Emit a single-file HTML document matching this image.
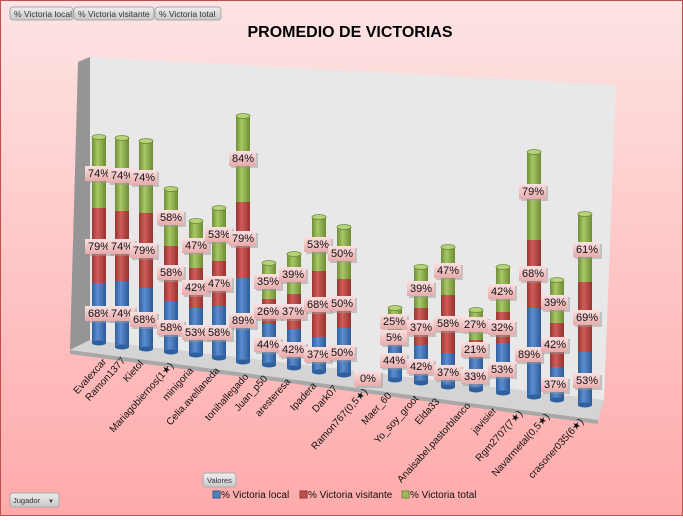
<!DOCTYPE html>
<html><head><meta charset="utf-8"><style>
html,body{margin:0;padding:0;}
body{width:683px;height:516px;overflow:hidden;font-family:"Liberation Sans",sans-serif;}
</style></head><body>
<svg width="683" height="516" viewBox="0 0 683 516" xmlns="http://www.w3.org/2000/svg" font-family="Liberation Sans, sans-serif">
<defs>
<linearGradient id="bg" x1="0" y1="0" x2="0" y2="1"><stop offset="0" stop-color="#fde4e4"/><stop offset="1" stop-color="#ffaaaa"/></linearGradient>
<linearGradient id="gb" x1="0" x2="1"><stop offset="0" stop-color="#2f5f9c"/><stop offset="0.4" stop-color="#5b8ed0"/><stop offset="1" stop-color="#2e5a94"/></linearGradient>
<linearGradient id="gr" x1="0" x2="1"><stop offset="0" stop-color="#9a3532"/><stop offset="0.4" stop-color="#d05c58"/><stop offset="1" stop-color="#953330"/></linearGradient>
<linearGradient id="gg" x1="0" x2="1"><stop offset="0" stop-color="#6f8e37"/><stop offset="0.4" stop-color="#a8c866"/><stop offset="1" stop-color="#6d8b34"/></linearGradient>
<linearGradient id="lb" x1="0" y1="0" x2="0" y2="1"><stop offset="0" stop-color="#fbe0e0"/><stop offset="1" stop-color="#e8aaaa"/></linearGradient>
<linearGradient id="btn" x1="0" y1="0" x2="0" y2="1"><stop offset="0" stop-color="#eeeeee"/><stop offset="1" stop-color="#c8c8c8"/></linearGradient>
<g id="lbl"><rect x="-13" y="-7" width="27" height="15" fill="#999" opacity="0.5" transform="translate(2,2)"/><rect x="-13" y="-7" width="27" height="15" fill="url(#lb)"/></g>
</defs>
<rect x="0.5" y="0.5" width="682" height="515" fill="url(#bg)" stroke="#c0504d"/>
<g font-size="8.5" fill="#333">
<rect x="10" y="7" width="63" height="13" rx="3" fill="url(#btn)" stroke="#aaa"/><text x="14" y="17">% Victoria local</text>
<rect x="74" y="7" width="80" height="13" rx="3" fill="url(#btn)" stroke="#aaa"/><text x="78" y="17">% Victoria visitante</text>
<rect x="155" y="7" width="66" height="13" rx="3" fill="url(#btn)" stroke="#aaa"/><text x="159" y="17">% Victoria total</text>
<rect x="203" y="473" width="33" height="14" rx="3" fill="url(#btn)" stroke="#aaa"/><text x="207" y="483" font-size="7.5">Valores</text>
<rect x="10" y="493" width="49" height="14" rx="3" fill="url(#btn)" stroke="#aaa"/><text x="13" y="503" font-size="7.5">Jugador</text><text x="48" y="503" font-size="6">▼</text>
</g>
<text x="350" y="37" text-anchor="middle" font-size="16" font-weight="bold" fill="#000">PROMEDIO DE VICTORIAS</text>
<polygon points="78,62 90,57 90,340 70,350" fill="#959595"/>
<polygon points="90,57 616,85 604,400 90,340" fill="#e8e8e8"/>
<polygon points="90,340 604,400 598,420 70,350" fill="#d4d4d4"/>
<polygon points="70,350 598,420 598,424 70,354" fill="#a8a8a8"/>
<g stroke-width="0">
<rect x="92" y="283" width="14" height="60" fill="url(#gb)"/><ellipse cx="99" cy="343" rx="7" ry="2.5" fill="#2f5f9c"/><rect x="92" y="208" width="14" height="75" fill="url(#gr)"/><rect x="92" y="137" width="14" height="71" fill="url(#gg)"/><ellipse cx="99" cy="137" rx="7" ry="2.5" fill="#b6d27a" stroke="#6d8b34" stroke-width="0.8"/>
<rect x="115" y="281" width="14" height="66" fill="url(#gb)"/><ellipse cx="122" cy="347" rx="7" ry="2.5" fill="#2f5f9c"/><rect x="115" y="211" width="14" height="70" fill="url(#gr)"/><rect x="115" y="138" width="14" height="73" fill="url(#gg)"/><ellipse cx="122" cy="138" rx="7" ry="2.5" fill="#b6d27a" stroke="#6d8b34" stroke-width="0.8"/>
<rect x="139" y="288" width="14" height="61" fill="url(#gb)"/><ellipse cx="146" cy="349" rx="7" ry="2.5" fill="#2f5f9c"/><rect x="139" y="213" width="14" height="75" fill="url(#gr)"/><rect x="139" y="141" width="14" height="72" fill="url(#gg)"/><ellipse cx="146" cy="141" rx="7" ry="2.5" fill="#b6d27a" stroke="#6d8b34" stroke-width="0.8"/>
<rect x="164" y="301" width="14" height="51" fill="url(#gb)"/><ellipse cx="171" cy="352" rx="7" ry="2.5" fill="#2f5f9c"/><rect x="164" y="246" width="14" height="55" fill="url(#gr)"/><rect x="164" y="189" width="14" height="57" fill="url(#gg)"/><ellipse cx="171" cy="189" rx="7" ry="2.5" fill="#b6d27a" stroke="#6d8b34" stroke-width="0.8"/>
<rect x="189" y="308" width="14" height="47" fill="url(#gb)"/><ellipse cx="196" cy="355" rx="7" ry="2.5" fill="#2f5f9c"/><rect x="189" y="268" width="14" height="40" fill="url(#gr)"/><rect x="189" y="221" width="14" height="47" fill="url(#gg)"/><ellipse cx="196" cy="221" rx="7" ry="2.5" fill="#b6d27a" stroke="#6d8b34" stroke-width="0.8"/>
<rect x="212" y="306" width="14" height="52" fill="url(#gb)"/><ellipse cx="219" cy="358" rx="7" ry="2.5" fill="#2f5f9c"/><rect x="212" y="261" width="14" height="45" fill="url(#gr)"/><rect x="212" y="208" width="14" height="53" fill="url(#gg)"/><ellipse cx="219" cy="208" rx="7" ry="2.5" fill="#b6d27a" stroke="#6d8b34" stroke-width="0.8"/>
<rect x="236" y="278" width="14" height="84" fill="url(#gb)"/><ellipse cx="243" cy="362" rx="7" ry="2.5" fill="#2f5f9c"/><rect x="236" y="202" width="14" height="76" fill="url(#gr)"/><rect x="236" y="116" width="14" height="86" fill="url(#gg)"/><ellipse cx="243" cy="116" rx="7" ry="2.5" fill="#b6d27a" stroke="#6d8b34" stroke-width="0.8"/>
<rect x="262" y="324" width="14" height="41" fill="url(#gb)"/><ellipse cx="269" cy="365" rx="7" ry="2.5" fill="#2f5f9c"/><rect x="262" y="299" width="14" height="25" fill="url(#gr)"/><rect x="262" y="263" width="14" height="36" fill="url(#gg)"/><ellipse cx="269" cy="263" rx="7" ry="2.5" fill="#b6d27a" stroke="#6d8b34" stroke-width="0.8"/>
<rect x="287" y="329" width="14" height="39" fill="url(#gb)"/><ellipse cx="294" cy="368" rx="7" ry="2.5" fill="#2f5f9c"/><rect x="287" y="294" width="14" height="35" fill="url(#gr)"/><rect x="287" y="254" width="14" height="40" fill="url(#gg)"/><ellipse cx="294" cy="254" rx="7" ry="2.5" fill="#b6d27a" stroke="#6d8b34" stroke-width="0.8"/>
<rect x="312" y="337" width="14" height="35" fill="url(#gb)"/><ellipse cx="319" cy="372" rx="7" ry="2.5" fill="#2f5f9c"/><rect x="312" y="271" width="14" height="66" fill="url(#gr)"/><rect x="312" y="217" width="14" height="54" fill="url(#gg)"/><ellipse cx="319" cy="217" rx="7" ry="2.5" fill="#b6d27a" stroke="#6d8b34" stroke-width="0.8"/>
<rect x="337" y="328" width="14" height="47" fill="url(#gb)"/><ellipse cx="344" cy="375" rx="7" ry="2.5" fill="#2f5f9c"/><rect x="337" y="279" width="14" height="49" fill="url(#gr)"/><rect x="337" y="227" width="14" height="52" fill="url(#gg)"/><ellipse cx="344" cy="227" rx="7" ry="2.5" fill="#b6d27a" stroke="#6d8b34" stroke-width="0.8"/>
<rect x="388" y="343" width="14" height="37" fill="url(#gb)"/><ellipse cx="395" cy="380" rx="7" ry="2.5" fill="#2f5f9c"/><rect x="388" y="337" width="14" height="6" fill="url(#gr)"/><rect x="388" y="308" width="14" height="29" fill="url(#gg)"/><ellipse cx="395" cy="308" rx="7" ry="2.5" fill="#b6d27a" stroke="#6d8b34" stroke-width="0.8"/>
<rect x="414" y="345" width="14" height="38" fill="url(#gb)"/><ellipse cx="421" cy="383" rx="7" ry="2.5" fill="#2f5f9c"/><rect x="414" y="308" width="14" height="37" fill="url(#gr)"/><rect x="414" y="267" width="14" height="41" fill="url(#gg)"/><ellipse cx="421" cy="267" rx="7" ry="2.5" fill="#b6d27a" stroke="#6d8b34" stroke-width="0.8"/>
<rect x="441" y="353" width="14" height="34" fill="url(#gb)"/><ellipse cx="448" cy="387" rx="7" ry="2.5" fill="#2f5f9c"/><rect x="441" y="295" width="14" height="58" fill="url(#gr)"/><rect x="441" y="247" width="14" height="48" fill="url(#gg)"/><ellipse cx="448" cy="247" rx="7" ry="2.5" fill="#b6d27a" stroke="#6d8b34" stroke-width="0.8"/>
<rect x="469" y="358" width="14" height="32" fill="url(#gb)"/><ellipse cx="476" cy="390" rx="7" ry="2.5" fill="#2f5f9c"/><rect x="469" y="340" width="14" height="18" fill="url(#gr)"/><rect x="469" y="310" width="14" height="30" fill="url(#gg)"/><ellipse cx="476" cy="310" rx="7" ry="2.5" fill="#b6d27a" stroke="#6d8b34" stroke-width="0.8"/>
<rect x="496" y="343" width="14" height="50" fill="url(#gb)"/><ellipse cx="503" cy="393" rx="7" ry="2.5" fill="#2f5f9c"/><rect x="496" y="312" width="14" height="31" fill="url(#gr)"/><rect x="496" y="267" width="14" height="45" fill="url(#gg)"/><ellipse cx="503" cy="267" rx="7" ry="2.5" fill="#b6d27a" stroke="#6d8b34" stroke-width="0.8"/>
<rect x="527" y="308" width="14" height="89" fill="url(#gb)"/><ellipse cx="534" cy="397" rx="7" ry="2.5" fill="#2f5f9c"/><rect x="527" y="240" width="14" height="68" fill="url(#gr)"/><rect x="527" y="152" width="14" height="88" fill="url(#gg)"/><ellipse cx="534" cy="152" rx="7" ry="2.5" fill="#b6d27a" stroke="#6d8b34" stroke-width="0.8"/>
<rect x="550" y="367" width="14" height="33" fill="url(#gb)"/><ellipse cx="557" cy="400" rx="7" ry="2.5" fill="#2f5f9c"/><rect x="550" y="323" width="14" height="44" fill="url(#gr)"/><rect x="550" y="280" width="14" height="43" fill="url(#gg)"/><ellipse cx="557" cy="280" rx="7" ry="2.5" fill="#b6d27a" stroke="#6d8b34" stroke-width="0.8"/>
<rect x="578" y="352" width="14" height="53" fill="url(#gb)"/><ellipse cx="585" cy="405" rx="7" ry="2.5" fill="#2f5f9c"/><rect x="578" y="282" width="14" height="70" fill="url(#gr)"/><rect x="578" y="214" width="14" height="68" fill="url(#gg)"/><ellipse cx="585" cy="214" rx="7" ry="2.5" fill="#b6d27a" stroke="#6d8b34" stroke-width="0.8"/>
</g>
<g font-size="11" fill="#111" text-anchor="middle">
<use href="#lbl" x="98" y="173"/><text x="99" y="177">74%</text><use href="#lbl" x="98" y="246"/><text x="99" y="250">79%</text><use href="#lbl" x="98" y="313"/><text x="99" y="317">68%</text>
<use href="#lbl" x="121" y="175"/><text x="122" y="179">74%</text><use href="#lbl" x="121" y="246"/><text x="122" y="250">74%</text><use href="#lbl" x="121" y="313"/><text x="122" y="317">74%</text>
<use href="#lbl" x="143" y="177"/><text x="144" y="181">74%</text><use href="#lbl" x="143" y="250"/><text x="144" y="254">79%</text><use href="#lbl" x="143" y="319"/><text x="144" y="323">68%</text>
<use href="#lbl" x="170" y="217"/><text x="171" y="221">58%</text><use href="#lbl" x="170" y="272"/><text x="171" y="276">58%</text><use href="#lbl" x="170" y="327"/><text x="171" y="331">58%</text>
<use href="#lbl" x="195" y="245"/><text x="196" y="249">47%</text><use href="#lbl" x="195" y="287"/><text x="196" y="291">42%</text><use href="#lbl" x="195" y="332"/><text x="196" y="336">53%</text>
<use href="#lbl" x="218" y="234"/><text x="219" y="238">53%</text><use href="#lbl" x="218" y="283"/><text x="219" y="287">47%</text><use href="#lbl" x="218" y="332"/><text x="219" y="336">58%</text>
<use href="#lbl" x="242" y="158"/><text x="243" y="162">84%</text><use href="#lbl" x="242" y="238"/><text x="243" y="242">79%</text><use href="#lbl" x="242" y="320"/><text x="243" y="324">89%</text>
<use href="#lbl" x="267" y="281"/><text x="268" y="285">35%</text><use href="#lbl" x="267" y="311"/><text x="268" y="315">26%</text><use href="#lbl" x="267" y="344"/><text x="268" y="348">44%</text>
<use href="#lbl" x="292" y="274"/><text x="293" y="278">39%</text><use href="#lbl" x="292" y="311"/><text x="293" y="315">37%</text><use href="#lbl" x="292" y="349"/><text x="293" y="353">42%</text>
<use href="#lbl" x="317" y="244"/><text x="318" y="248">53%</text><use href="#lbl" x="317" y="304"/><text x="318" y="308">68%</text><use href="#lbl" x="317" y="354"/><text x="318" y="358">37%</text>
<use href="#lbl" x="341" y="253"/><text x="342" y="257">50%</text><use href="#lbl" x="341" y="303"/><text x="342" y="307">50%</text><use href="#lbl" x="341" y="352"/><text x="342" y="356">50%</text>
<use href="#lbl" x="367" y="378"/><text x="368" y="382">0%</text>
<use href="#lbl" x="393" y="321"/><text x="394" y="325">25%</text><use href="#lbl" x="393" y="337"/><text x="394" y="341">5%</text><use href="#lbl" x="393" y="360"/><text x="394" y="364">44%</text>
<use href="#lbl" x="420" y="288"/><text x="421" y="292">39%</text><use href="#lbl" x="420" y="327"/><text x="421" y="331">37%</text><use href="#lbl" x="420" y="366"/><text x="421" y="370">42%</text>
<use href="#lbl" x="447" y="270"/><text x="448" y="274">47%</text><use href="#lbl" x="447" y="323"/><text x="448" y="327">58%</text><use href="#lbl" x="447" y="372"/><text x="448" y="376">37%</text>
<use href="#lbl" x="474" y="324"/><text x="475" y="328">27%</text><use href="#lbl" x="474" y="349"/><text x="475" y="353">21%</text><use href="#lbl" x="474" y="376"/><text x="475" y="380">33%</text>
<use href="#lbl" x="501" y="291"/><text x="502" y="295">42%</text><use href="#lbl" x="501" y="327"/><text x="502" y="331">32%</text><use href="#lbl" x="501" y="369"/><text x="502" y="373">53%</text>
<use href="#lbl" x="532" y="191"/><text x="533" y="195">79%</text><use href="#lbl" x="532" y="273"/><text x="533" y="277">68%</text><use href="#lbl" x="528" y="354"/><text x="529" y="358">89%</text>
<use href="#lbl" x="554" y="302"/><text x="555" y="306">39%</text><use href="#lbl" x="554" y="344"/><text x="555" y="348">42%</text><use href="#lbl" x="554" y="384"/><text x="555" y="388">37%</text>
<use href="#lbl" x="586" y="249"/><text x="587" y="253">61%</text><use href="#lbl" x="586" y="317"/><text x="587" y="321">69%</text><use href="#lbl" x="586" y="380"/><text x="587" y="384">53%</text>
</g>
<g font-size="10" fill="#111" text-anchor="end">
<text transform="translate(107,362) rotate(-48)">Evalexcar</text>
<text transform="translate(126,361) rotate(-48)">Ramon1377</text>
<text transform="translate(144,364) rotate(-48)">Kietol</text>
<text transform="translate(174,366) rotate(-48)">Mariagobiernos(1★)</text>
<text transform="translate(194,371) rotate(-48)">minigoria</text>
<text transform="translate(220,371) rotate(-48)">Celia.avellaneda</text>
<text transform="translate(249,377) rotate(-48)">tonihallegado</text>
<text transform="translate(268,379) rotate(-48)">Juan_p50</text>
<text transform="translate(291,382) rotate(-48)">aresteresa</text>
<text transform="translate(317,386) rotate(-48)">Ipadera</text>
<text transform="translate(338,389) rotate(-48)">Dark07</text>
<text transform="translate(368,392) rotate(-48)">Ramon767(0,5★)</text>
<text transform="translate(392,396) rotate(-48)">Maer_60</text>
<text transform="translate(419,399) rotate(-48)">Yo_soy_groot</text>
<text transform="translate(440,402) rotate(-48)">Elda33</text>
<text transform="translate(471,406) rotate(-48)">Anaisabel.pastorblanco</text>
<text transform="translate(497,411) rotate(-48)">javisier</text>
<text transform="translate(523,414) rotate(-48)">Rgm2707(7★)</text>
<text transform="translate(550,417) rotate(-48)">Navarmetal(0,5★)</text>
<text transform="translate(584,422) rotate(-48)">crasoner035(6★)</text>
</g>
<g font-size="10" fill="#111">
<rect x="213" y="491" width="7" height="7" fill="#4f81bd" stroke="#385d8a"/><text x="221" y="498">% Victoria local</text>
<rect x="300" y="491" width="7" height="7" fill="#c0504d" stroke="#8c3836"/><text x="308" y="498">% Victoria visitante</text>
<rect x="402" y="491" width="7" height="7" fill="#9bbb59" stroke="#71893f"/><text x="410" y="498">% Victoria total</text>
</g>
</svg>
</body></html>
